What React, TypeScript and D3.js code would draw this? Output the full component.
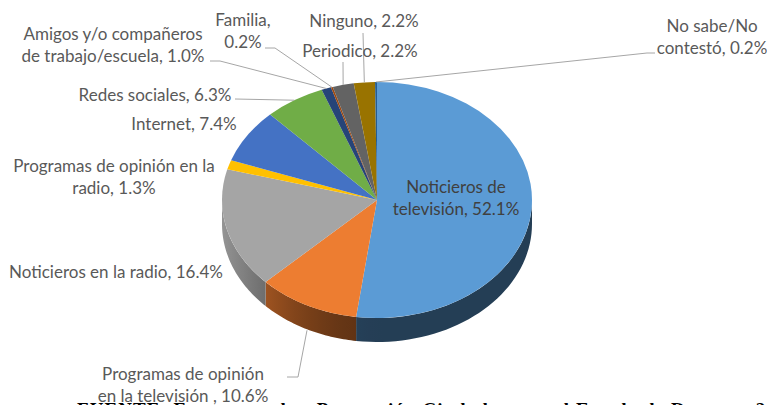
import React from "react";
import * as d3 from "d3";

// slices, clockwise from 12 o'clock
const categories = [
  "Noticieros de televisión",
  "Programas de opinión en la televisión",
  "Noticieros en la radio",
  "Programas de opinión en la radio",
  "Internet",
  "Redes sociales",
  "Amigos y/o compañeros de trabajo/escuela",
  "Familia",
  "Periodico",
  "Ninguno",
  "No sabe/No contestó",
];
const values = [52.1, 10.6, 16.4, 1.3, 7.4, 6.3, 1.0, 0.2, 2.2, 2.2, 0.2];
const labelLines = [
  ["Noticieros de", "televisión, 52.1%"],
  ["Programas de opinión", "en la televisión , 10.6%"],
  ["Noticieros en la radio, 16.4%"],
  ["Programas de opinión en la", "radio, 1.3%"],
  ["Internet, 7.4%"],
  ["Redes sociales, 6.3%"],
  ["Amigos y/o compañeros", "de trabajo/escuela, 1.0%"],
  ["Familia,", "0.2%"],
  ["Periodico, 2.2%"],
  ["Ninguno, 2.2%"],
  ["No sabe/No", "contestó, 0.2%"],
];
const colors = [
  "#5B9BD5", "#ED7D31", "#A5A5A5", "#FFC000", "#4472C4", "#70AD47",
  "#264478", "#9E480E", "#636363", "#997300", "#255E91",
];
const sourceNote =
  "FUENTE: Encuesta sobre Percepción Ciudadana en el Estado de Durango 2016";

// label placement: text centre x, first baseline, leader elbow points (null = no leader)
const labelLayout: { x: number; y: number; leader: number[][] | null; wall?: boolean }[] = [
  { x: 456, y: 193, leader: null },
  { x: 183, y: 380, leader: [[287, 377], [298, 377]], wall: true },
  { x: 116, y: 278, leader: null },
  { x: 114, y: 172, leader: null },
  { x: 184, y: 130, leader: null },
  { x: 155, y: 101, leader: [[235, 99]] },
  { x: 113, y: 40, leader: [[210, 61], [220, 61]] },
  { x: 243, y: 26, leader: [[265, 48], [275, 48]] },
  { x: 360, y: 57, leader: [[343, 62]] },
  { x: 364, y: 27, leader: [[363, 33]] },
  { x: 712, y: 32, leader: [[655, 53], [647, 53]] },
];

const W = 767;
const H = 405;
const cx = 377;
const cy = 200;
const rx = 155;
const ry = 118;
const depth = 24;
const lineH = 22;
const font = "Lato, 'Open Sans', sans-serif";

const pt = (a: number, dy = 0) => [cx + rx * Math.sin(a), cy - ry * Math.cos(a) + dy];

// wall brightness: lit from the left, dark at the front and right
const shade = (a: number) => 0.4 + 0.5 * Math.pow(Math.max(0, -Math.sin(a)), 1.9);

export default function App() {
  const arcs = d3.pie<number>().sort(null).value((d) => d)(values);
  const arc = d3.arc<d3.PieArcDatum<number>>().innerRadius(0).outerRadius(rx);
  const line = d3.line();

  const walls = arcs
    .map((a, i) => {
      const a0 = Math.max(a.startAngle, Math.PI / 2);
      const a1 = Math.min(a.endAngle, (3 * Math.PI) / 2);
      if (a1 <= a0) return null;
      const steps = d3.range(0, 41).map((k) => a0 + ((a1 - a0) * k) / 40);
      const top = steps.map((s) => pt(s) as [number, number]);
      const bottom = steps.slice().reverse().map((s) => pt(s, depth) as [number, number]);
      const stops = d3.range(0, 21).map((k) => {
        const s = a0 + ((a1 - a0) * k) / 20;
        const c = d3.rgb(colors[i]);
        const f = shade(s);
        return {
          offset: (Math.sin(s) + 1) / 2,
          color: d3.rgb(c.r * f, c.g * f, c.b * f).formatHex(),
        };
      });
      return { i, d: line([...top, ...bottom]) + "Z", stops };
    })
    .filter((w) => w !== null) as { i: number; d: string; stops: { offset: number; color: string }[] }[];

  return (
    <svg
      width={W}
      height={H}
      style={{ position: "absolute", left: 0, top: 0, background: "#fff" }}
    >
      <defs>
        {walls.map((w) => (
          <linearGradient
            key={w.i}
            id={`wall${w.i}`}
            gradientUnits="userSpaceOnUse"
            x1={cx - rx}
            x2={cx + rx}
            y1={0}
            y2={0}
          >
            {w.stops
              .slice()
              .sort((p, q) => p.offset - q.offset)
              .map((s, k) => (
                <stop key={k} offset={s.offset} stopColor={s.color} />
              ))}
          </linearGradient>
        ))}
      </defs>

      {walls.map((w) => (
        <path key={w.i} d={w.d} fill={`url(#wall${w.i})`} />
      ))}

      <g transform={`translate(${cx},${cy}) scale(1,${ry / rx})`}>
        {arcs.map((a, i) => (
          <path key={i} d={arc(a) as string} fill={colors[i]} />
        ))}
      </g>

      {arcs.map((a, i) => {
        const lay = labelLayout[i];
        if (!lay.leader) return null;
        const mid = (a.startAngle + a.endAngle) / 2;
        const end = pt(mid, lay.wall ? depth + 1 : 0) as [number, number];
        return (
          <path
            key={i}
            d={line([...(lay.leader as [number, number][]), end]) as string}
            fill="none"
            stroke="#A6A6A6"
            strokeWidth={1}
          />
        );
      })}

      {labelLines.map((lines, i) => {
        const lay = labelLayout[i];
        return (
          <text
            key={i}
            x={lay.x}
            y={lay.y}
            textAnchor="middle"
            fontFamily={font}
            fontSize={17}
            fill={i === 0 ? "#404040" : "#595959"}
          >
            {lines.map((t, k) => (
              <tspan key={k} x={lay.x} y={lay.y + k * lineH}>
                {t}
              </tspan>
            ))}
          </text>
        );
      })}

      <text
        x={77}
        y={416}
        fontFamily="'Liberation Serif', 'Times New Roman', serif"
        fontWeight="bold"
        fontSize={19}
        fill="#000"
        textLength={720}
      >
        {sourceNote}
      </text>
    </svg>
  );
}
